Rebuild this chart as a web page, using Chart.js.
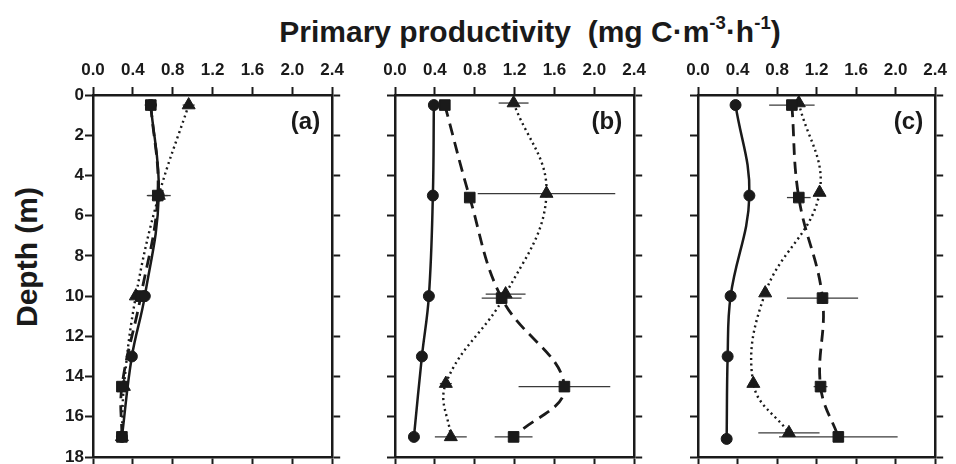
<!DOCTYPE html>
<html>
<head>
<meta charset="utf-8">
<script src="https://cdn.jsdelivr.net/npm/chart.js@4.4.1/dist/chart.umd.min.js"></script>
<style>
  body { margin: 0; width: 956px; height: 464px; overflow: hidden; background: #fff; position: relative;
         font-family: 'Liberation Sans', Arial, sans-serif; color: #1a1a1a; }
  canvas { position: absolute; top: 0; }
  #title { position: absolute; left: 230px; width: 600px; top: 17px; text-align: center;
           font-size: 30px; line-height: 30px; font-weight: bold; white-space: nowrap; }
  #title sup { font-size: 0.62em; position: relative; top: -0.12em; line-height: 0; }
  #ytitle { position: absolute; left: -73px; top: 239px; width: 200px; height: 36px; line-height: 36px;
            text-align: center; font-size: 30px; font-weight: bold; transform: rotate(-90deg); white-space: nowrap; }
</style>
</head>
<body>
<div id="title">Primary productivity&nbsp; (mg C·m<sup>-3</sup>·h<sup>-1</sup>)</div>
<div id="ytitle">Depth (m)</div>
<canvas id="panelA" width="350" height="472" style="left:0px"></canvas>
<canvas id="panelB" width="287" height="472" style="left:365px"></canvas>
<canvas id="panelC" width="285" height="472" style="left:668px"></canvas>
<script>
const prodTicks = [0, 0.4, 0.8, 1.2, 1.6, 2.0, 2.4];
const depthTicks = [0, 2, 4, 6, 8, 10, 12, 14, 16, 18];
const panelTags = ['(a)', '(b)', '(c)'];

// panel (a)
const circleDepthA = [0.5, 5, 10, 13, 17];
const circleProdA = [0.58, 0.66, 0.52, 0.39, 0.29];
const circleErrA = [0, 0, 0, 0, 0];
const squareDepthA = [0.5, 5, 10, 14.5, 17];
const squareProdA = [0.58, 0.65, 0.48, 0.29, 0.29];
const squareErrA = [0.06, 0.1, 0, 0, 0];
const triDepthA = [0.5, 5, 10, 14.5, 17];
const triProdA = [0.96, 0.66, 0.43, 0.31, 0.29];
const triErrA = [0.06, 0.12, 0, 0, 0];

// panel (b)
const circleDepthB = [0.5, 5, 10, 13, 17];
const circleProdB = [0.39, 0.38, 0.34, 0.27, 0.19];
const circleErrB = [0, 0, 0, 0, 0];
const squareDepthB = [0.5, 5.1, 10.1, 14.5, 17];
const squareProdB = [0.50, 0.75, 1.07, 1.70, 1.19];
const squareErrB = [0, 0, 0.2, 0.46, 0.19];
const triDepthB = [0.4, 4.9, 9.9, 14.35, 17];
const triProdB = [1.19, 1.52, 1.11, 0.51, 0.56];
const triErrB = [0.15, 0.69, 0.2, 0.06, 0.16];

// panel (c)
const circleDepthC = [0.5, 5, 10, 13, 17.1];
const circleProdC = [0.38, 0.52, 0.33, 0.30, 0.29];
const circleErrC = [0, 0, 0, 0, 0];
const squareDepthC = [0.5, 5.1, 10.1, 14.5, 17];
const squareProdC = [0.95, 1.02, 1.26, 1.24, 1.42];
const squareErrC = [0.23, 0.12, 0.36, 0.07, 0.6];
const triDepthC = [0.4, 4.85, 9.85, 14.35, 16.8];
const triProdC = [1.02, 1.23, 0.68, 0.56, 0.92];
const triErrC = [0, 0, 0, 0, 0.31];

const ink = '#1a1a1a';
const tickFont = { family: "'Liberation Sans', Arial, sans-serif", size: 17, weight: 'bold' };

function series(depths, values, errs, style) {
    return Object.assign({
        data: depths.map((d, i) => ({ x: values[i], y: d })),
        errorBars: errs,
        showLine: true,
        tension: 0.4,
        borderColor: ink,
        backgroundColor: ink,
        pointBorderColor: ink,
        pointBackgroundColor: ink,
        pointBorderWidth: 1
    }, style);
}

const solid = { borderWidth: 2.5, pointStyle: 'circle', pointRadius: 5.5 };
const dashed = { borderWidth: 2.8, borderDash: [12, 7], pointStyle: 'rect', pointRadius: 7.5 };
const dotted = { borderWidth: 2.4, borderDash: [2, 3.5], pointStyle: 'triangle', pointRadius: 7.5 };

// horizontal error bars, drawn under the markers
const errorBarPlugin = {
    id: 'errorBars',
    beforeDatasetsDraw(chart) {
        const { ctx, scales: { x, y } } = chart;
        ctx.save();
        ctx.strokeStyle = '#3a3a3a';
        ctx.lineWidth = 1.3;
        chart.data.datasets.forEach(ds => {
            (ds.errorBars || []).forEach((e, i) => {
                if (!e) return;
                const p = ds.data[i];
                const py = y.getPixelForValue(p.y);
                ctx.beginPath();
                ctx.moveTo(x.getPixelForValue(p.x - e), py);
                ctx.lineTo(x.getPixelForValue(p.x + e), py);
                ctx.stroke();
            });
        });
        ctx.restore();
    }
};

const panelTagPlugin = {
    id: 'panelTag',
    afterDraw(chart, args, opts) {
        const { ctx, chartArea } = chart;
        ctx.save();
        ctx.font = "bold 24px 'Liberation Sans', Arial, sans-serif";
        ctx.fillStyle = ink;
        ctx.textAlign = 'right';
        ctx.textBaseline = 'middle';
        ctx.fillText(opts.text, chartArea.right - 12, chartArea.top + 27);
        ctx.restore();
    }
};

function buildScales(withLabels) {
    const grid = { drawOnChartArea: false, drawTicks: true, tickLength: 8, tickWidth: 2, color: ink };
    const border = { display: true, width: 2.5, color: ink };
    const prodAxis = (pos, show, size) => ({
        type: 'linear', position: pos, min: 0, max: 2.4,
        afterBuildTicks: s => { s.ticks = prodTicks.map(v => ({ value: v })); },
        ticks: { display: show, callback: v => v.toFixed(1), font: tickFont, color: ink, padding: 6, maxRotation: 0, autoSkip: false },
        grid, border,
        afterFit: s => { s.height = size; }
    });
    const depthAxis = (pos, show, size) => ({
        type: 'linear', position: pos, min: 0, max: 18, reverse: true,
        afterBuildTicks: s => { s.ticks = depthTicks.map(v => ({ value: v })); },
        ticks: { display: show, font: tickFont, color: ink, padding: 1, autoSkip: false },
        grid, border,
        afterFit: s => { s.width = size; }
    });
    return {
        x: prodAxis('top', true, 95),
        x2: prodAxis('bottom', false, 15),
        y: depthAxis('left', withLabels, withLabels ? 93 : 30),
        y2: depthAxis('right', false, 15)
    };
}

function makePanel(id, tag, withLabels, sets) {
    new Chart(document.getElementById(id), {
        type: 'scatter',
        data: { datasets: sets },
        options: {
            responsive: false,
            animation: false,
            devicePixelRatio: 1,
            layout: { padding: 0 },
            scales: buildScales(withLabels),
            plugins: { legend: { display: false }, tooltip: { enabled: false }, panelTag: { text: tag } }
        },
        plugins: [errorBarPlugin, panelTagPlugin]
    });
}

makePanel('panelA', panelTags[0], true, [
    series(circleDepthA, circleProdA, circleErrA, solid),
    series(squareDepthA, squareProdA, squareErrA, dashed),
    series(triDepthA, triProdA, triErrA, dotted)
]);
makePanel('panelB', panelTags[1], false, [
    series(circleDepthB, circleProdB, circleErrB, solid),
    series(squareDepthB, squareProdB, squareErrB, dashed),
    series(triDepthB, triProdB, triErrB, dotted)
]);
makePanel('panelC', panelTags[2], false, [
    series(circleDepthC, circleProdC, circleErrC, solid),
    series(squareDepthC, squareProdC, squareErrC, dashed),
    series(triDepthC, triProdC, triErrC, dotted)
]);
</script>
</body>
</html>
